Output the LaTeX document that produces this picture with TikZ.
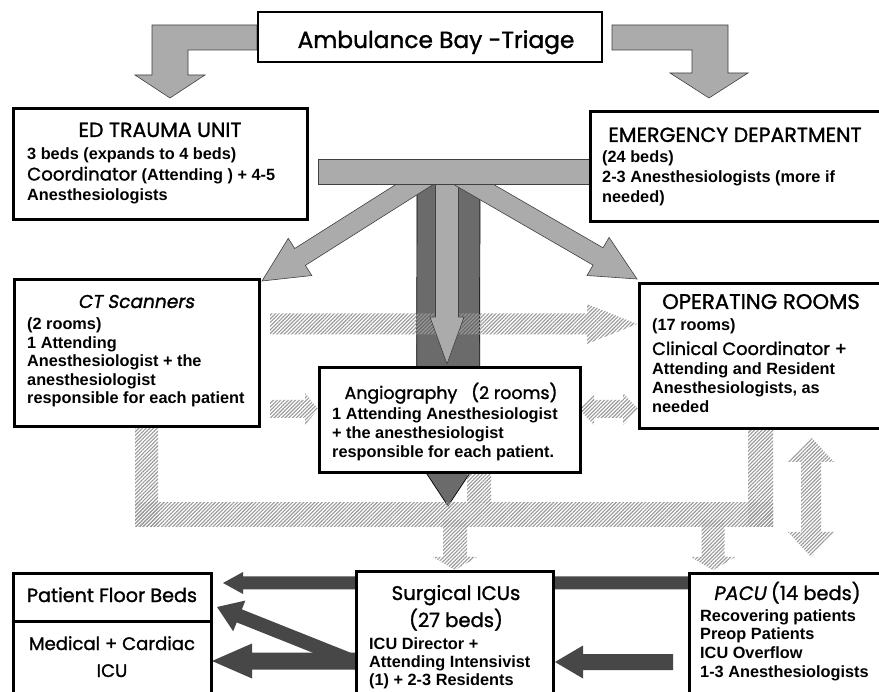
\documentclass[tikz,border=0pt]{standalone}
\usepackage{fontspec}
\setmainfont{Liberation Sans}
\newfontfamily\hd{Poppins}[FakeBold=1.3]
\newfontfamily\hdit{Poppins}[FakeSlant=0.18,FakeBold=1.3]
\usetikzlibrary{calc,patterns.meta}
% block arrow: style, start, tip, half shaft, half head, head length
\newcommand{\blockarr}[6]{%
  \coordinate (hb) at ($(#3)!#6pt!(#2)$);
  \path[#1] ($(#2)!#4pt!-90:(#3)$) -- ($(hb)!#4pt!90:(#2)$) -- ($(hb)!#5pt!90:(#2)$) -- (#3)
    -- ($(hb)!#5pt!-90:(#2)$) -- ($(hb)!#4pt!-90:(#2)$) -- ($(#2)!#4pt!90:(#3)$) -- cycle;}
% double block arrow
\newcommand{\dblarr}[6]{%
  \coordinate (ha) at ($(#2)!#6pt!(#3)$);
  \coordinate (hb) at ($(#3)!#6pt!(#2)$);
  \path[#1] (#2) -- ($(ha)!#5pt!90:(#3)$) -- ($(ha)!#4pt!90:(#3)$) -- ($(hb)!#4pt!-90:(#2)$)
    -- ($(hb)!#5pt!-90:(#2)$) -- (#3) -- ($(hb)!#5pt!90:(#2)$) -- ($(hb)!#4pt!90:(#2)$)
    -- ($(ha)!#4pt!-90:(#3)$) -- ($(ha)!#5pt!-90:(#3)$) -- cycle;}
\tikzset{
  box/.style={draw=black, line width=2.8pt, fill=white, inner sep=0pt},
  dotarrow/.style={fill=gray!66, draw=black!75, line width=0.6pt},
  darkcol/.style={fill=black!58, draw=black, line width=0.7pt},
  hatch/.style={pattern={Lines[angle=45,distance=2.6pt,line width=1.1pt]}, pattern color=gray!80},
  dark/.style={fill=black!72},
  hdt/.style={inner sep=0pt, anchor=base, font=\hd\fontsize{17}{20}\selectfont},
  bt/.style={inner sep=0pt, anchor=base west, font=\bfseries\fontsize{16.3}{18.5}\selectfont},
}
\newcommand{\hs}[1]{\hd\mdseries\fontsize{#1}{#1}\selectfont}
\newcommand{\hi}[1]{\hdit\mdseries\fontsize{#1}{#1}\selectfont}
\begin{document}
\begin{tikzpicture}[x=1pt,y=-1pt]
\useasboundingbox (0,0) rectangle (879,692);
\fill[white] (0,0) rectangle (879,692);

% ---- dark central arrow (behind everything)
\blockarr{darkcol}{448.5,176}{448,506}{31.5}{45}{68}

% ---- hatched network
\fill[hatch] (135,420) rectangle (158,527);
\fill[hatch] (135,503) rectangle (773,527);
\fill[hatch] (748,420) rectangle (773,527);
\fill[hatch] (467,465) rectangle (491,503);
\blockarr{hatch}{455,520}{455,570}{12}{22}{13}
\blockarr{hatch}{713,520}{713,570}{11.5}{22.5}{13}
% hatched arrows
\blockarr{hatch}{270,324}{637,324}{10.5}{20}{50}
\blockarr{hatch}{270,409}{318,409}{9}{16}{13}
\dblarr{hatch}{579,409}{638,409}{9}{16}{15}
\dblarr{hatch}{811,437}{811,557}{10}{23}{25}

% ---- light central arrow and diagonals
\blockarr{dotarrow}{447,180}{447,364}{11.5}{17}{47}
\blockarr{dotarrow}{428,176}{262,281}{10}{22}{45}
\blockarr{dotarrow}{459,176}{637,279}{10}{22}{45}
% T-bar
\draw[dotarrow] (318,159) rectangle (589,184);
% L-arrows from ambulance bay
\draw[dotarrow] (257,25) -- (152,25) -- (152,75) -- (135,75) -- (170,98) -- (205,75) -- (188,75) -- (188,50) -- (257,50) -- cycle;
\draw[dotarrow] (612,25) -- (728,25) -- (728,73) -- (748,73) -- (709,98) -- (670,73) -- (692,73) -- (692,50) -- (612,50) -- cycle;

% ---- dark bottom arrows
\blockarr{dark}{688,583}{223,583}{6.5}{11}{20}
\blockarr{dark}{360,664}{217,607}{7}{16.5}{24}
\blockarr{dark}{360,661}{212,661}{8.5}{17.5}{40}
\blockarr{dark}{673,662}{555,662}{8}{16.5}{28}

% ---- boxes
\node[box, minimum width=344pt, minimum height=50pt] (amb) at (430,37) {};
\node[box, anchor=north west, minimum width=294pt, minimum height=111pt] (edt) at (12,107) {};
\node[box, anchor=north west, minimum width=292pt, minimum height=110pt] (ed) at (589,110) {};
\node[box, anchor=north west, minimum width=245pt, minimum height=147pt] (ct) at (13,278) {};
\node[box, anchor=north west, minimum width=244pt, minimum height=145pt] (or) at (638,282) {};
\node[box, anchor=north west, minimum width=261pt, minimum height=105pt] (angio) at (318,366) {};
\node[box, anchor=north west, minimum width=197pt, minimum height=130pt] (sicu) at (355,570) {};
\node[box, anchor=north west, minimum width=194pt, minimum height=128pt] (pacu) at (688,572) {};
\node[box, anchor=north west, minimum width=198pt, minimum height=48pt] (floor) at (12,572) {};
\node[box, anchor=north west, minimum width=198pt, minimum height=80pt] (med) at (12,620) {};

% ---- texts
\node[hdt, font=\hs{23.3}] (tamb) at (436,48) {Ambulance Bay -Triage};

\node[hdt, font=\hs{20.5}] (tedt) at (160,137) {ED TRAUMA UNIT};
\node[bt, font=\bfseries\fontsize{16.3}{20.5}\selectfont] (bedt) at (27,160) {\begin{tabular}[t]{@{}l@{}}3 beds (expands to 4 beds)\\{\hs{18.2}Coordinator} (Attending ) + 4-5\\Anesthesiologists\end{tabular}};

\node[hdt, font=\hs{20.5}] (ted) at (735,142) {EMERGENCY DEPARTMENT};
\node[bt, font=\bfseries\fontsize{16.3}{20}\selectfont] (bed) at (602,163) {\begin{tabular}[t]{@{}l@{}}(24 beds)\\2-3 Anesthesiologists (more if\\needed)\end{tabular}};

\node[hdt, font=\hi{18.6}] (tct) at (136,308) {CT Scanners};
\node[bt] (bct) at (27,330) {\begin{tabular}[t]{@{}l@{}}(2 rooms)\\1 Attending\\Anesthesiologist + the\\anesthesiologist\\responsible for each patient\end{tabular}};

\node[hdt, font=\hs{21.2}] (tor) at (761,309) {OPERATING ROOMS};
\node[bt] (bor1) at (652,331) {(17 rooms)};
\node[hdt, anchor=base west, font=\hs{17.8}] (bor2) at (652,355) {Clinical Coordinator +};
\node[bt, font=\bfseries\fontsize{16.3}{19}\selectfont] (bor3) at (652,375) {\begin{tabular}[t]{@{}l@{}}Attending and Resident\\Anesthesiologists, as\\needed\end{tabular}};

\node[hdt, font=\hs{17.4}] (tangio) at (451,399) {Angiography\ \ \ (2 rooms)};
\node[bt, font=\bfseries\fontsize{16.3}{19.25}\selectfont] (bangio) at (332,419.5) {\begin{tabular}[t]{@{}l@{}}1 Attending Anesthesiologist\\+ the anesthesiologist\\responsible for each patient.\end{tabular}};

\node[hdt, font=\hs{19.7}] (tsicu) at (456,600) {Surgical ICUs};
\node[hdt, font=\hs{19.6}] (tsicu2) at (456,627) {(27 beds)};
\node[bt, font=\bfseries\fontsize{16.3}{18}\selectfont] (bsicu) at (369,649) {\begin{tabular}[t]{@{}l@{}}ICU Director +\\Attending Intensivist\\(1) + 2-3 Residents\end{tabular}};

\node[hdt, font=\hs{19.4}] (tpacu) at (787,600) {{\hi{19.4}PACU} (14 beds)};
\node[bt, font=\bfseries\fontsize{16.3}{18.7}\selectfont] (bpacu) at (700,621) {\begin{tabular}[t]{@{}l@{}}Recovering patients\\Preop Patients\\ICU Overflow\\1-3 Anesthesiologists\end{tabular}};

\node[hdt, font=\hs{19.2}] (tfloor) at (112,602) {Patient Floor Beds};
\node[hdt, font=\hs{18.1}] (tmed) at (112,650) {Medical + Cardiac};
\node[hdt, font=\hs{18.1}] (tmed2) at (112,677) {ICU};
\end{tikzpicture}
\end{document}
